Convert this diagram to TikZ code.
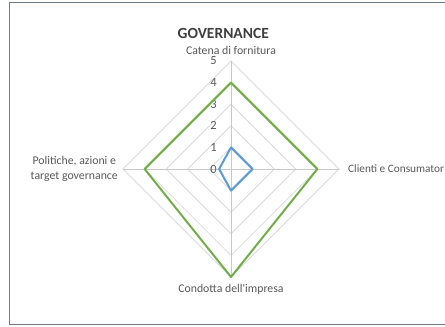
\documentclass[tikz,border=0pt]{standalone}
\usepackage{fontspec}
\setmainfont{Carlito}
\definecolor{gridgray}{RGB}{217,217,217}
\definecolor{axisgray}{RGB}{200,200,200}
\definecolor{labelgray}{RGB}{89,89,89}
\definecolor{titlegray}{RGB}{64,64,64}
\definecolor{framecol}{RGB}{110,122,140}
\definecolor{seriesgreen}{RGB}{112,173,71}
\definecolor{seriesblue}{RGB}{91,155,213}

\tikzstyle{catlabel} = [font=\fontsize{11.8}{14.3}\selectfont, text=labelgray, inner sep=0pt]
\tikzstyle{ticklabel} = [font=\fontsize{12.5}{14}\selectfont, text=labelgray, inner sep=0pt, anchor=east]
\tikzstyle{series} = [line width=2pt, line join=round]

\begin{document}
\begin{tikzpicture}[x=1pt,y=1pt]
\useasboundingbox (0,0) rectangle (445,327);
\draw[framecol, line width=1pt] (9.5,2) rectangle (452,324);
\node[font=\bfseries\fontsize{15.5}{17}\selectfont, text=titlegray] (title) at (223.3,293.5) {GOVERNANCE};
\begin{scope}[shift={(231,158)}, x=21.6pt, y=21.6pt]
	% grid
	\foreach \r in {1,...,5}
		\draw[gridgray, line width=0.8pt] (0,\r) -- (\r,0) -- (0,-\r) -- (-\r,0) -- cycle;
	\coordinate (top) at (0,5);
	\coordinate (right) at (5,0);
	\coordinate (bottom) at (0,-5);
	\coordinate (left) at (-5,0);
	\draw[axisgray, line width=0.8pt] (top) -- (bottom);
	\draw[axisgray, line width=0.8pt] (left) -- (right);
	% scale
	\foreach \v in {0,...,5}
		\node[ticklabel] (t\v) at (-0.65,\v) {\v};
	% series
	\draw[series, seriesgreen] (0,4) -- (4,0) -- (0,-5) -- (-4,0) -- cycle;
	\draw[series, seriesblue] (0,1) -- (1,0) -- (0,-1) -- (-0.55,0) -- cycle;
	% categories
	\node[catlabel, anchor=south] (supply) at ([yshift=6.5pt]top) {Catena di fornitura};
	\node[catlabel, anchor=west, font=\fontsize{11.3}{14.3}\selectfont] (clients) at ([xshift=9pt]right) {Clienti e Consumator};
	\node[catlabel, anchor=north] (conduct) at ([yshift=-7pt]bottom) {Condotta dell\textquotesingle impresa};
	\node[catlabel, anchor=east, align=center] (policy) at ([xshift=-5pt]left) {Politiche, azioni e\\target governance};
\end{scope}
\end{tikzpicture}
\end{document}
